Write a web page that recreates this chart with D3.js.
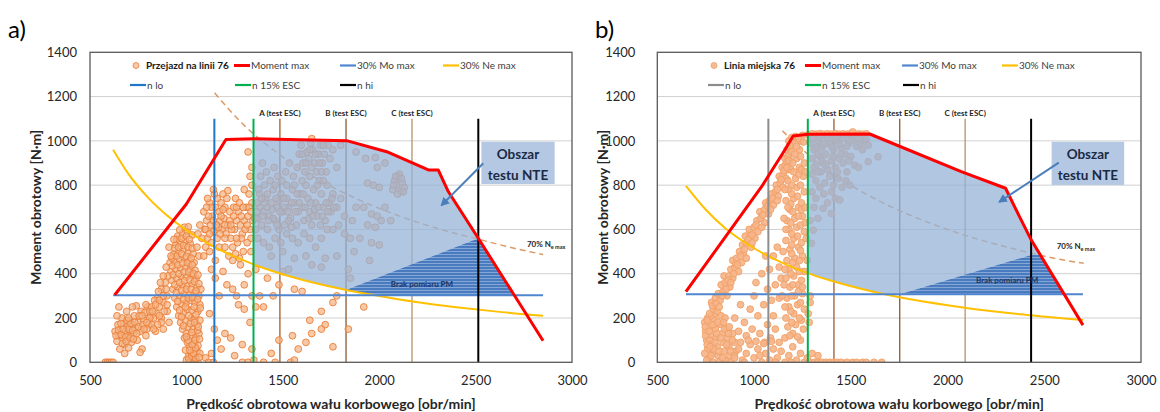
<!DOCTYPE html>
<html><head><meta charset="utf-8">
<script src="https://cdn.jsdelivr.net/npm/d3@7"></script>
<style>body{margin:0;background:#fff}svg{display:block}text{font-family:Lato,"Open Sans",sans-serif}</style>
</head><body><svg id="c" width="1160" height="412"></svg>
<script>
// ---------------- DATA ----------------
const xTicks = [500,1000,1500,2000,2500,3000];
const yTicks = [0,200,400,600,800,1000,1200,1400];
const panelLabels = ["a)","b)"];
const xTitle = "Prędkość obrotowa wału korbowego [obr/min]";
const yTitle = "Moment obrotowy [N·m]";
const legendLabelsA = ["Przejazd na linii 76","Moment max","30% Mo max","30% Ne max","n lo","n 15% ESC","n hi"];
const legendLabelsB = ["Linia miejska 76","Moment max","30% Mo max","30% Ne max","n lo","n 15% ESC","n hi"];
const escLabels = ["A (test ESC)","B (test ESC)","C (test ESC)"];
const nteLabel = ["Obszar","testu NTE"];
const pmLabel = "Brak pomiaru PM";

// vertical speed lines: n lo, n 15% ESC, A, B, C, n hi
const speedsA = [1145,1348,1485,1828,2170,2514];
const speedsB = [1074,1278,1413,1753,2091,2432];
const speedLineTop = 1100;

// panel a) curves
const redA = [[628,304],[1000,715],[1205,1006],[1350,1010],[1831,1001],[2039,951],[2255,869],[2306,869],[2359,770],[2514,560],[2850,97]];
const moA = [[620,303],[2850,303]];
const yellowA = [[620,960],[700,850],[800,745],[900,663],[1000,597],[1100,543],[1200,497],[1300,459],[1400,426],[1600,373],[1800,332],[2000,299],[2200,271],[2400,249],[2600,230],[2850,210]];
const dashA = [[1146,1217],[1300,1070],[1500,928],[1700,818],[1900,732],[2100,662],[2300,605],[2514,556],[2700,515],[2850,487]];
const nteA = [[1348,443],[1348,1010],[1831,1001],[2039,951],[2255,869],[2306,869],[2359,770],[2514,560],[1830,328],[1700,351],[1600,373],[1500,398],[1400,426],[1348,443]];
const pmA = [[1830,328],[2514,560],[2700,303],[1970,303],[1900,314]];

// panel b) curves
const redB = [[648,319],[1039,793],[1159,959],[1202,1022],[1280,1030],[1598,1031],[2071,861],[2300,786],[2372,658],[2433,552],[2700,168]];
const moB = [[648,307],[2700,307]];
const yellowB = [[648,797],[750,690],[850,606],[1000,515],[1100,468],[1200,429],[1300,396],[1400,368],[1600,322],[1800,286],[2000,258],[2200,234],[2400,215],[2700,191]];
const dashB = [[1146,1046],[1300,923],[1500,800],[1700,706],[1900,632],[2100,571],[2300,522],[2432,493],[2600,462],[2704,447]];
const nteB = [[1278,403],[1278,1024],[1598,1031],[2071,861],[2300,786],[2372,658],[2433,552],[2480,485],[2432,485],[1753,307],[1677,307],[1600,322],[1500,343],[1400,368],[1278,403]];
const pmB = [[1753,307],[2432,485],[2480,485],[2603,307]];

// scatter a) "Przejazd na linii 76"  (rpm, Nm pairs)
const ptsA_low = [630,140,640,95,645,170,650,120,655,60,660,150,665,200,670,110,675,175,680,80,685,140,690,230,695,160,700,120,705,190,710,145,715,90,720,170,725,130,730,210,735,155,740,255,745,100,750,180,760,140,765,230,770,60,780,190,790,120,800,250,805,170,815,210,760,45,700,65,640,210,580,0,590,0,600,0,610,0,620,0,680,40,720,250,650,250,
  635,120,648,145,662,125,672,150,686,115,692,190,702,150,712,175,722,145,732,180,742,130,752,160,668,85,688,95,708,110,725,105,755,210,775,170,785,225,795,150,660,175,700,200];
const ptsA_band = [1000,10,1010,25,1020,5,1030,15,1040,0,1050,10,1060,0,1045,30,1025,45,1035,60,1055,50,1015,70,1005,90,1040,85,1060,75,1070,40,995,55,990,110,1000,130,1020,120,1050,110,1065,130,980,150,1010,160,1035,150,1055,170,970,180,995,190,1025,200,1045,195,1070,190,960,210,985,225,1005,240,1030,235,1060,230,950,250,975,265,1000,270,1020,280,1045,270,1070,260,940,290,965,300,990,310,1015,305,1040,315,1065,300,930,330,955,340,980,350,1005,345,1030,355,1055,340,1075,330,925,370,950,380,975,390,1000,385,1025,395,1050,380,920,410,945,420,970,425,995,430,1020,420,1045,415,915,450,940,455,965,465,990,470,1015,460,1040,450,935,490,960,500,985,510,1010,495,1035,490,945,530,970,540,995,550,1020,535,955,570,980,580,1005,590,1030,575,990,610,900,300,880,270,870,330,890,360,860,250,845,220,850,290,830,200,820,170,870,200,900,230,910,180,880,150,840,140,810,230,790,260,905,390,895,430,910,520,
  1012,15,1028,28,1048,18,1066,22,1037,40,1018,55,1048,65,1030,80,1010,100,1045,100,1068,105,1000,115,1028,135,1058,145,985,165,1020,175,1042,180,1062,160,975,205,1012,210,1050,215,965,235,995,250,1040,250,1072,245,955,275,985,285,1010,290,1032,292,1058,285,948,315,975,325,1000,330,1025,330,1050,322,940,350,965,360,990,368,1018,372,1042,365,1065,355,932,395,960,400,988,408,1012,408,1036,400,1060,395,928,435,955,440,980,448,1005,450,1030,440,925,470,950,480,975,490,1000,478,1025,470,940,515,960,520,985,528,1008,520,1030,515,950,555,975,560,1000,570,1015,555,965,598,1010,612,935,555,920,480,1065,480,1055,520,
  820,250,835,280,855,320,865,360,880,390,895,330,880,300,860,280,840,260,825,230,810,200,795,180,780,150,770,210,900,260,885,230,870,180,850,170,830,150,860,210];
const ptsA_mid = [1090,480,1100,520,1110,560,1095,600,1105,640,1120,500,1130,540,1140,590,1125,620,1135,660,1150,700,1160,740,1145,760,1170,680,1180,720,1190,760,1200,700,1210,740,1175,640,1185,600,1195,650,1160,560,1170,520,1205,580,1215,620,1225,680,1230,560,1240,520,1250,600,1260,640,1245,700,1255,740,1270,680,1280,620,1290,580,1300,640,1310,700,1320,660,1330,600,1335,560,1340,720,1325,760,1315,540,1295,500,1275,470,1265,540,1220,480,1200,520,1150,460,1080,560,1070,620,1060,580,1090,680,1120,720,1140,780,1215,775,1300,780,1330,840,1340,880,1320,950,1340,800,1130,420,1150,380,1170,300,1190,410,1210,350,1240,330,1260,300,1280,440,1300,350,1320,400,1340,300,1120,220,1145,150,1160,100,1180,60,1200,130,1230,110,1250,30,1130,40,1100,20,1115,0,1140,0,1290,0,1320,0,1350,10,1270,260,1300,240,1330,180,1360,250,1290,80,1340,60,
  1100,600,1115,660,1130,700,1110,740,1165,610,1180,660,1190,690,1200,620,1225,640,1235,600,1245,660,1260,700,1275,720,1285,660,1295,700,1305,600,1315,620,1325,700,1345,640,1335,680,1285,560,1260,560,1230,620,1200,560,1175,580,1155,620,1140,640,1120,580,1105,700,1255,490,1240,460,1335,500];
const ptsA_nte = [1360,600,1370,650,1380,700,1390,620,1400,680,1410,740,1420,600,1430,660,1440,720,1450,780,1460,640,1470,700,1480,600,1490,760,1500,680,1510,620,1520,740,1530,700,1540,650,1550,780,1560,720,1570,620,1580,680,1590,760,1600,700,1610,640,1620,800,1630,740,1640,680,1650,620,1660,780,1670,720,1680,660,1690,820,1700,760,1710,700,1720,640,1730,800,1740,720,1750,680,1760,760,1780,700,1800,740,1820,660,1365,720,1375,780,1385,840,1395,900,1405,800,1415,860,1435,820,1455,880,1475,840,1495,820,1515,860,1535,900,1555,840,1575,880,1585,940,1595,980,1605,900,1615,860,1625,950,1635,920,1645,990,1655,960,1665,900,1675,860,1685,940,1695,980,1705,900,1715,940,1725,860,1735,980,1745,920,1760,960,1780,880,1800,980,1650,1010,1370,560,1400,540,1430,520,1460,560,1490,540,1520,580,1550,560,1580,540,1610,580,1640,560,1670,520,1700,560,1730,600,1760,600,1790,620,1820,580,1440,480,1500,500,1620,480,1720,470,1780,480,1560,470,1380,760,1420,700,1450,650,1480,730,1510,700,1545,610,1575,760,1605,760,1635,650,1665,690,1695,620,1725,720,1755,740,1470,620,1530,640,1880,950,1930,920,1980,925,1990,880,1940,810,1970,800,2000,790,2030,900,1880,700,1920,700,1960,670,1990,660,2010,640,2030,700,2060,640,1980,610,1940,620,1860,640,1850,560,1900,560,1960,540,2000,530,1870,500,1950,460,1840,420,2070,780,2080,820,2090,800,2100,840,2110,770,2120,810,2130,790,2095,760,2105,850,2085,840,2115,830,2075,800,2125,770,
  1355,650,1365,680,1395,660,1405,720,1425,640,1445,690,1465,740,1485,680,1505,740,1525,680,1545,720,1565,680,1585,720,1615,700,1645,720,1655,660,1685,700,1705,660,1735,680,1765,700,1600,820,1640,840,1680,800,1710,820,1560,800,1520,800,1460,800,1420,760,1390,740,1650,880,1620,900,1700,860,1670,940,1710,980,1690,900,1640,960,1600,940];
const ptsA_sparse = [1360,420,1380,300,1400,250,1420,380,1450,300,1480,350,1500,410,1530,420,1560,330,1600,320,1650,440,1700,430,1760,270,1780,300,1700,230,1720,170,1650,130,1620,90,1580,60,1550,120,1480,100,1440,40,1400,0,1460,0,1540,0,1560,10,1760,70,1840,150,1920,250,1640,190,1700,150,1850,380];

// scatter b) "Linia miejska 76"
const ptsB_low = [745,180,750,140,755,100,760,60,765,20,770,160,775,120,780,80,785,40,790,0,795,190,800,150,805,110,810,70,815,30,820,0,830,170,835,130,840,90,845,50,850,10,860,150,865,110,870,70,875,30,880,0,890,130,900,90,905,50,760,200,780,210,800,220,750,120,770,100,790,60,745,40,755,10,830,210,850,200,
  748,160,758,80,768,140,778,30,788,170,798,90,808,130,818,50,828,110,838,20,848,150,858,80,868,130,878,50,888,100,898,30,758,190,772,70,812,180,842,180,872,160];
const ptsB_diag = [770,220,790,240,810,230,780,270,800,290,825,280,815,310,840,320,860,300,830,350,850,360,875,340,845,390,870,390,890,380,880,420,900,430,920,410,890,460,910,470,935,450,925,500,945,490,960,470,940,530,960,540,985,520,955,570,980,580,1005,560,975,600,1000,610,1020,590,1015,640,1035,650,1055,630,1030,680,1055,690,1075,670,1060,720,1080,730,1100,710,1090,760,1110,770,1125,750,1115,800,1135,810,1150,790,1130,840,1150,850,1165,830,1145,880,1160,890,1175,870,1160,920,1175,930,1185,910,1170,960,1185,970,1180,1000,1195,1015,
  785,255,805,265,835,300,855,330,865,370,895,400,905,445,930,480,950,510,970,555,990,575,1010,620,1045,665,1070,705,1095,740,1120,780,1140,825,1155,865,1170,905,1180,940,820,250,880,360,915,440,990,540,1040,610,1085,690,1120,730];
const ptsB_inner = [900,200,930,260,950,180,980,240,1000,300,1020,210,1050,260,1070,330,1090,280,1110,350,1080,420,1100,480,1120,520,1060,480,1040,400,1010,360,1130,430,1140,380,990,150,960,120,1030,130,1070,170,1100,210,1130,290,920,140,1055,90,1085,110,1110,150];
const ptsB_bottom = [900,20,920,60,940,10,960,40,980,80,1000,20,1020,60,1040,0,1060,40,1080,10,1100,60,1120,20,1140,50,1160,0,1180,30,1200,70,1220,10,1240,40,1260,0,1275,20,930,90,970,100,1010,95,1050,85,1090,95,1130,90,950,0,1030,30,1110,0,1190,0,1290,0,1310,0,1330,0,1350,0,1370,0,1390,0,1410,0,1430,0,1450,0,1480,0,1510,0,1530,0,1560,0,1580,0,1620,0,1660,0,1330,30];
const ptsB_vert = [1160,110,1200,130,1240,100,1175,160,1215,170,1255,150,1165,200,1205,220,1245,190,1180,250,1225,260,1260,240,1170,290,1210,300,1250,310,1185,340,1230,350,1165,380,1205,390,1245,370,1180,420,1220,430,1260,410,1170,460,1210,470,1250,480,1185,510,1230,520,1165,550,1205,560,1245,540,1180,600,1220,610,1260,590,1170,640,1210,650,1250,660,1185,690,1230,700,1165,730,1205,740,1245,720,1180,780,1220,790,1260,770,1175,820,1215,830,1255,840,1190,870,1235,880,1180,910,1220,920,1260,900,1195,950,1235,960,1200,990,1240,1000,1215,1020,1250,1025,1150,500,1145,300,1155,650,1270,560,1275,460,1290,270,1300,40,1285,180,1290,300,1280,220,
  1185,120,1225,115,1195,180,1235,200,1190,230,1240,270,1195,300,1230,320,1200,350,1250,340,1190,400,1235,410,1200,450,1235,460,1195,490,1240,505,1195,530,1225,570,1195,580,1240,620,1190,630,1230,660,1200,680,1245,690,1190,715,1225,750,1195,760,1240,800,1195,800,1230,850,1205,860,1245,870,1200,900,1240,930,1210,940,1220,975,1230,1010,1255,995,1265,860,1265,700,1265,630,1160,420,1155,350,1160,250,1165,600,1175,700,1185,980,1170,880,1160,780];
const ptsB_top = [1280,1028,1300,1032,1320,1030,1340,1033,1360,1030,1380,1032,1400,1030,1420,1033,1440,1030,1460,1032,1480,1030,1500,1033,1520,1030,1540,1032,1560,1030,1580,1032,1510,1040];
const ptsB_nte = [1290,990,1310,960,1330,1000,1350,970,1370,940,1390,990,1410,960,1430,1000,1450,970,1470,940,1490,990,1510,1005,1530,975,1550,990,1570,1000,1590,980,1300,920,1320,890,1340,930,1360,900,1380,870,1400,910,1420,880,1440,920,1460,900,1480,860,1500,930,1520,890,1540,880,1590,906,1641,928,1300,850,1320,820,1345,860,1365,810,1390,840,1410,800,1435,830,1455,790,1475,820,1495,800,1300,770,1320,740,1340,790,1360,760,1380,720,1400,770,1420,740,1443,733,1400,672,1357,695,1310,700,1306,597,1297,537,1330,650,1290,640,
  1300,1010,1320,970,1340,1015,1360,985,1380,1010,1400,975,1420,1012,1440,985,1460,1010,1480,975,1500,1000,1540,1010,1560,960,1580,1010,1330,940,1350,910,1370,890,1410,930,1450,940,1490,910,1310,880,1330,860,1430,860];

// ---------------- RENDER ----------------
const toPairs = a => { const r=[]; for(let i=0;i<a.length;i+=2) r.push([a[i],a[i+1]]); return r; };
const svg = d3.select("#c");
svg.append("rect").attr("width",1160).attr("height",412).attr("fill","#fff");
const defs = svg.append("defs");
const pat = defs.append("pattern").attr("id","hatch").attr("patternUnits","userSpaceOnUse").attr("width",8).attr("height",3);
pat.append("rect").attr("width",8).attr("height",3).attr("fill","#4a7bbf");
pat.append("line").attr("x1",0).attr("x2",8).attr("y1",2.5).attr("y2",2.5).attr("stroke","#93b3dd").attr("stroke-width",0.8);
defs.append("marker").attr("id","arr").attr("viewBox","0 0 10 10").attr("refX",8).attr("refY",5)
  .attr("markerWidth",4.5).attr("markerHeight",4.5).attr("orient","auto")
  .append("path").attr("d","M0,0L10,5L0,10z").attr("fill","#4a7ebb");

const PY0 = 52.3, PY1 = 362.3;
const panels = [
  { px0:90, px1:572, labelPad:13, yTitleX:36, panelX:8, panelLabel:panelLabels[0],
    speeds:speedsA, red:redA, mo:moA, yellow:yellowA, dash:dashA, nte:nteA, pm:pmA,
    pts:[ptsA_low,ptsA_band,ptsA_mid,ptsA_nte,ptsA_sparse].map(toPairs).flat(),
    ptFill:"rgba(245,178,130,0.7)", ptStroke:"#ea7f3a", nloColor:"#1f77c8",
    legendLabels:legendLabelsA, legX:[136,234,340,443,130,235,340],
    dashLabel:[2766,520], pmText:[2222,340], box:[2530,2910,996,805], arrow:[[2540,899],[2324,710]] },
  { px0:657.3, px1:1141, labelPad:22, yTitleX:603, panelX:595, panelLabel:panelLabels[1],
    speeds:speedsB, red:redB, mo:moB, yellow:yellowB, dash:dashB, nte:nteB, pm:pmB,
    pts:[ptsB_low,ptsB_diag,ptsB_inner,ptsB_bottom,ptsB_vert,ptsB_top,ptsB_nte].map(toPairs).flat(),
    ptFill:"rgba(246,180,136,0.9)", ptStroke:"#f0a066", nloColor:"#8c8c8c",
    legendLabels:legendLabelsB, legX:[714,805,902,1002,708,805,903],
    dashLabel:[2564,512], pmText:[2308,360], box:[2538,2913,996,801], arrow:[[2575,902],[2269,725]] }
];
const C = {red:"#ff0000", mo:"#4f86cf", yellow:"#ffc000", green:"#00b050", hi:"#000000",
           esc:["#a0592e","#8a5a32","#b8916a"], dash:"#dc9a66", nte:"#95b3d7"};

panels.forEach((P,pi) => {
  const x = d3.scaleLinear().domain([500,3000]).range([P.px0,P.px1]);
  const y = d3.scaleLinear().domain([0,1400]).range([PY1,PY0]);
  const g = svg.append("g");
  const clipId = "clip"+pi;
  defs.append("clipPath").attr("id",clipId).append("rect")
    .attr("x",P.px0).attr("y",PY0).attr("width",P.px1-P.px0).attr("height",PY1-PY0);
  const line = d3.line().x(d=>x(d[0])).y(d=>y(d[1]));
  const curve = d3.line().x(d=>x(d[0])).y(d=>y(d[1])).curve(d3.curveMonotoneX);

  // gridlines
  g.selectAll("line.grid").data(yTicks.filter(v=>v>0 && v<1400)).join("line")
    .attr("x1",P.px0).attr("x2",P.px1).attr("y1",d=>y(d)).attr("y2",d=>y(d))
    .attr("stroke","#d0d0d0").attr("stroke-width",1);

  const pg = g.append("g").attr("clip-path",`url(#${clipId})`);
  // ESC lines (under area)
  pg.selectAll("line.esc").data(P.speeds.slice(2,5)).join("line")
    .attr("x1",d=>x(d)).attr("x2",d=>x(d)).attr("y1",y(0)).attr("y2",y(speedLineTop))
    .attr("stroke",(d,i)=>C.esc[i]).attr("stroke-width",1.3);
  // dashed 70% Ne max
  pg.append("path").attr("d",curve(P.dash)).attr("fill","none").attr("stroke",C.dash)
    .attr("stroke-width",1.5).attr("stroke-dasharray","6,4");
  // scatter
  pg.selectAll("circle.pt").data(P.pts).join("circle")
    .attr("cx",d=>x(d[0])).attr("cy",d=>y(d[1])).attr("r",3.4)
    .attr("fill",P.ptFill).attr("stroke",P.ptStroke).attr("stroke-width",0.9);
  // NTE area (translucent, over points)
  pg.append("path").attr("d",line(P.nte)+"Z").attr("fill",C.nte).attr("fill-opacity",0.75);
  pg.append("path").attr("d",line(P.pm)+"Z").attr("fill","url(#hatch)");
  // curves
  pg.append("path").attr("d",curve(P.yellow)).attr("fill","none").attr("stroke",C.yellow).attr("stroke-width",2);
  pg.append("path").attr("d",line(P.mo)).attr("fill","none").attr("stroke",C.mo).attr("stroke-width",2);
  // n lo, n15, n hi
  [[P.speeds[0],P.nloColor],[P.speeds[1],C.green],[P.speeds[5],C.hi]].forEach(([v,c])=>{
    pg.append("line").attr("x1",x(v)).attr("x2",x(v)).attr("y1",y(0)).attr("y2",y(speedLineTop))
      .attr("stroke",c).attr("stroke-width",2);
  });
  pg.append("path").attr("d",line(P.red)).attr("fill","none").attr("stroke",C.red)
    .attr("stroke-width",3).attr("stroke-linejoin","round");

  // ESC labels
  g.selectAll("text.esc").data(P.speeds.slice(2,5)).join("text")
    .attr("x",d=>x(d)).attr("y",y(speedLineTop)-3).attr("text-anchor","middle")
    .attr("font-size",8).attr("font-weight","bold").attr("fill","#262626")
    .text((d,i)=>escLabels[i]);
  // 70% Ne max label
  const dl = g.append("text").attr("x",x(P.dashLabel[0])).attr("y",y(P.dashLabel[1]))
    .attr("font-size",8).attr("font-weight","bold").attr("fill","#262626");
  dl.append("tspan").text("70% N");
  dl.append("tspan").attr("font-size",5.5).attr("dy",2).text("e max");
  // Brak pomiaru PM
  g.append("text").attr("x",x(P.pmText[0])).attr("y",y(P.pmText[1])).attr("text-anchor","middle")
    .attr("font-size",8).attr("font-weight","bold").attr("fill","#1f3560").text(pmLabel);
  // NTE box
  const b = P.box;
  g.append("rect").attr("x",x(b[0])).attr("y",y(b[2])).attr("width",x(b[1])-x(b[0])).attr("height",y(b[3])-y(b[2]))
    .attr("fill","#b4c8e4");
  const bcx = (x(b[0])+x(b[1]))/2, bty = y(b[2]);
  g.append("text").attr("x",bcx).attr("y",bty+17).attr("text-anchor","middle").attr("font-size",13.5)
    .attr("font-weight","bold").attr("fill","#1b2a45").text(nteLabel[0]);
  g.append("text").attr("x",bcx).attr("y",bty+38).attr("text-anchor","middle").attr("font-size",13.5)
    .attr("font-weight","bold").attr("fill","#1b2a45").text(nteLabel[1]);
  g.append("line").attr("x1",x(P.arrow[0][0])).attr("y1",y(P.arrow[0][1]))
    .attr("x2",x(P.arrow[1][0])).attr("y2",y(P.arrow[1][1]))
    .attr("stroke","#4a7ebb").attr("stroke-width",2).attr("marker-end","url(#arr)");

  // plot border
  g.append("rect").attr("x",P.px0).attr("y",PY0).attr("width",P.px1-P.px0).attr("height",PY1-PY0)
    .attr("fill","none").attr("stroke","#5a5a5a").attr("stroke-width",1.3);

  // axes
  const ax = g.append("g").attr("transform",`translate(0,${PY1})`)
    .call(d3.axisBottom(x).tickValues(xTicks).tickSize(0).tickPadding(13).tickFormat(d3.format("d")));
  ax.select(".domain").remove();
  ax.selectAll("text").attr("font-size",13).attr("fill","#262626").attr("font-family","Lato");
  const ay = g.append("g").attr("transform",`translate(${P.px0},0)`)
    .call(d3.axisLeft(y).tickValues(yTicks).tickSize(0).tickPadding(P.labelPad).tickFormat(d3.format("d")));
  ay.select(".domain").remove();
  ay.selectAll("text").attr("font-size",13).attr("fill","#262626").attr("font-family","Lato");

  // titles
  g.append("text").attr("x",(P.px0+P.px1)/2).attr("y",409).attr("text-anchor","middle")
    .attr("font-size",14).attr("font-weight","bold").attr("fill","#262626").text(xTitle);
  g.append("text").attr("transform",`translate(${P.yTitleX},${(PY0+PY1)/2}) rotate(-90)`)
    .attr("text-anchor","middle").attr("dy","0.35em")
    .attr("font-size",14).attr("font-weight","bold").attr("fill","#262626").text(yTitle);
  g.append("text").attr("x",P.panelX).attr("y",38).attr("font-family","'Liberation Serif',serif")
    .attr("font-size",24).attr("fill","#000").text(P.panelLabel);

  // legend
  const lg = g.append("g").attr("font-size",10).attr("fill","#404040");
  const rows = [65.5,85];
  const lcols = [null,C.red,C.mo,C.yellow,P.nloColor,C.green,C.hi];
  P.legendLabels.forEach((lab,i)=>{
    const ry = i<4 ? rows[0] : rows[1];
    const lx = P.legX[i];
    if(i===0){
      lg.append("circle").attr("cx",lx).attr("cy",ry).attr("r",3).attr("fill",P.ptFill).attr("stroke",P.ptStroke).attr("stroke-width",0.8);
      lg.append("text").attr("x",lx+10).attr("y",ry).attr("dy","0.35em").attr("font-weight","bold").attr("fill","#1a1a1a").text(lab);
    } else {
      const len = 16;
      lg.append("line").attr("x1",lx).attr("x2",lx+len).attr("y1",ry).attr("y2",ry)
        .attr("stroke",lcols[i]).attr("stroke-width",i===1?3:2.2);
      lg.append("text").attr("x",lx+len+1).attr("y",ry).attr("dy","0.35em").text(lab);
    }
  });
});
</script></body></html>
